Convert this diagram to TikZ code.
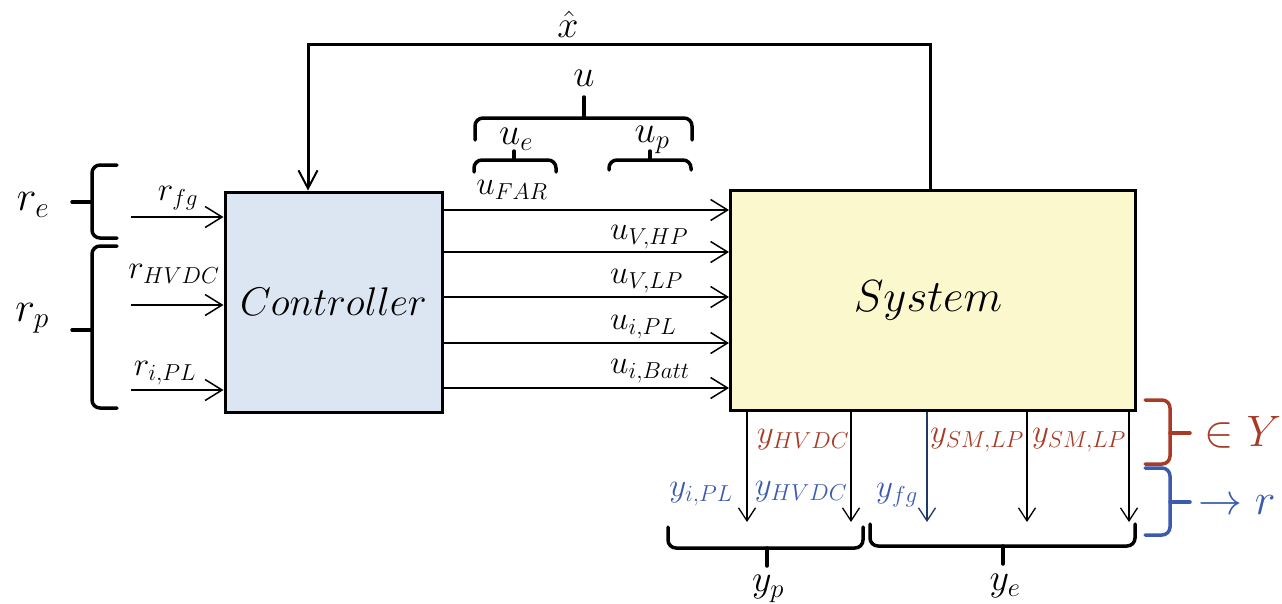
\RequirePackage{fix-cm}
\documentclass[tikz,border=0pt]{standalone}
\usetikzlibrary{arrows.meta}
\definecolor{ctrlfill}{HTML}{DCE6F2}
\definecolor{sysfill}{HTML}{FAF8CC}
\definecolor{myred}{HTML}{A83A26}
\definecolor{myblue}{HTML}{3B5BAD}
\definecolor{darkblue}{HTML}{1F3864}
\tikzset{
  blockbox/.style={draw, line width=3pt, inner sep=0pt},
  big/.style={font=\fontsize{40}{48}\selectfont},
  bigger/.style={font=\fontsize{45}{54}\selectfont},
  lbl/.style={font=\fontsize{33}{40}\selectfont, inner sep=0pt},
  midlbl/.style={font=\fontsize{38}{46}\selectfont, inner sep=0pt},
  sidelbl/.style={font=\fontsize{42}{50}\selectfont, inner sep=0pt},
  biglbl/.style={font=\fontsize{44}{52}\selectfont, inner sep=0pt},
  sig/.style={line width=1.5pt, -{Straight Barb[length=17pt,width=21pt,line width=1.5pt]}},
  sigdown/.style={line width=1.3pt, -{Straight Barb[length=13pt,width=17pt,line width=1.3pt]}},
  fb/.style={line width=3pt, -{Straight Barb[length=18pt,width=19pt,line width=2pt]}},
  brc/.style={line width=3.5pt, rounded corners=8pt, line cap=round},
}
\begin{document}
\begin{tikzpicture}[x=1pt,y=-1pt]
\useasboundingbox (0,0) rectangle (1282,603);

% blocks
\node[blockbox, fill=ctrlfill, minimum width=217pt, minimum height=220pt, big] (ctrl) at (333.5,302) {$Controller$};
\node[blockbox, fill=sysfill, minimum width=405pt, minimum height=220pt, bigger] (sys) at (933,300) {$System$\hspace*{10pt}};

% feedback
\coordinate (fbr) at (930,44);
\coordinate (fbl) at (308,44);
\draw[fb] (sys.north -| fbr) -- (fbr) -- (fbl) -- (ctrl.north -| fbl);
\node[midlbl] (xhat) at (568,24) {$\hat{x}$};

% reference inputs
\coordinate (in1) at (131,217);
\coordinate (in2) at (131,305);
\coordinate (in3) at (131,390);
\draw[sig] (in1) -- (ctrl.west |- in1);
\draw[sig] (in2) -- (ctrl.west |- in2);
\draw[sig] (in3) -- (ctrl.west |- in3);
\node[lbl] (rfg) at (178,198) {$r_{fg}$};
\node[lbl] (rhvdc) at (174,274) {$r_{HVDC}$};
\node[lbl] (ripl) at (165,373) {$r_{i,PL}$};

% left braces
\draw[brc] (117,165) -- (92,165) -- (92,238) -- (117,238);
\draw[brc] (92,202) -- (72,202);
\draw[brc] (117,246) -- (92,246) -- (92,408) -- (117,408);
\draw[brc] (92,330) -- (72,330);
\node[sidelbl] (re) at (33,205) {$r_e$};
\node[sidelbl] (rp) at (32,318) {$r_p$};

% control signals
\foreach \yy/\nm in {210/a,252/b,297/c,343/d,388/e}{
  \coordinate (u\nm) at (0,\yy);
  \draw[sig] (ctrl.east |- u\nm) -- (sys.west |- u\nm);
}
\node[lbl] (ufar) at (512,190) {$u_{FAR}$};
\node[lbl, anchor=west] (uvhp) at (610,237) {$u_{V,HP}$};
\node[lbl, anchor=west] (uvlp) at (610,281) {$u_{V,LP}$};
\node[lbl, anchor=west] (uipl) at (610,327) {$u_{i,PL}$};
\node[lbl, anchor=west] (uibatt) at (610,371) {$u_{i,Batt}$};

% top braces
\draw[brc] (475,140) -- (475,118) -- (692,118) -- (692,140);
\draw[brc] (584,118) -- (584,97);
\node[midlbl] (u) at (584,78) {$u$};
\draw[brc] (474,172) -- (474,160) -- (556,160) -- (556,172);
\draw[brc] (514,160) -- (514,151);
\node[midlbl] (ue) at (516,139) {$u_e$};
\draw[brc] (609,170) -- (609,160) -- (691,160) -- (691,170);
\draw[brc] (650,160) -- (650,151);
\node[midlbl] (up) at (652,140) {$u_p$};

% outputs
\foreach \xx/\nm in {747/a,851/b,1027/d,1129/e}{
  \coordinate (o\nm) at (\xx,522);
  \draw[sigdown] (sys.south -| o\nm) -- (o\nm);
}
\coordinate (oc) at (927,522);
\draw[sigdown, draw=darkblue] (sys.south -| oc) -- (oc);

\node[lbl, text=myred] (yhvdc1) at (803,440) {$y_{HVDC}$};
\node[lbl, text=myred] (ysm1) at (977,440) {$y_{SM,LP}$};
\node[lbl, text=myred] (ysm2) at (1079,440) {$y_{SM,LP}$};
\node[lbl, text=myblue] (yipl) at (701,494) {$y_{i,PL}$};
\node[lbl, text=myblue] (yhvdc2) at (801,492) {$y_{HVDC}$};
\node[lbl, text=myblue] (yfg) at (897,495) {$y_{fg}$};

% bottom braces
\draw[brc] (668,527) -- (668,548) -- (863,548) -- (863,527);
\draw[brc] (767,548) -- (767,566);
\draw[brc] (870,524) -- (870,546) -- (1135,546) -- (1135,524);
\draw[brc] (1003,546) -- (1003,564);
\node[midlbl] (yp) at (768,589) {$y_p$};
\node[midlbl] (ye) at (1005,586) {$y_e$};

% right braces
\draw[brc, draw=myred] (1145,400) -- (1170,400) -- (1170,464) -- (1145,464);
\draw[brc, draw=myred] (1170,433) -- (1190,433);
\node[biglbl, text=myred] (inY) at (1243,432) {$\in Y$};
\draw[brc, draw=myblue] (1145,468) -- (1170,468) -- (1170,535) -- (1145,535);
\draw[brc, draw=myblue] (1170,502) -- (1190,502);
\node[biglbl, text=myblue] (tor) at (1237,505) {$\to r$};
\end{tikzpicture}
\end{document}
